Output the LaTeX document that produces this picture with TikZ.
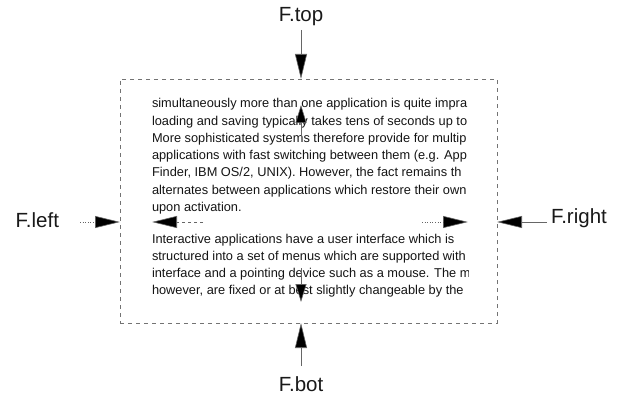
\documentclass[tikz,border=0pt]{standalone}
\usepackage{fontspec}
\setmainfont{Liberation Sans}
\usetikzlibrary{arrows.meta}
\begin{document}
\begin{tikzpicture}[x=1pt,y=-1pt,
  frame/.style={draw=black!55,line width=0.6pt,dash pattern=on 4pt off 4pt,inner sep=0pt,outer sep=0pt},
  lbl/.style={font=\fontsize{20.5}{24}\selectfont,text=black!90,inner sep=3.5pt,outer sep=0pt},
  txt/.style={font=\fontsize{12.8}{15}\selectfont,text=black!92,inner sep=0pt,outer sep=0pt,anchor=base west},
  bigarrow/.style={draw=black!60,line width=0.6pt,-{Triangle[length=25pt,width=12pt,fill=black]}},
  smallarrow/.style={draw=black!60,line width=0.6pt,-{Triangle[length=18pt,width=11pt,fill=black]}}]
\useasboundingbox (0,0) rectangle (617,395);
% frame and text block
\node[frame,minimum width=377pt,minimum height=244pt] (F) at (308.5,201) {};
\node[inner sep=0pt,outer sep=0pt,minimum width=316pt,minimum height=197pt] (T) at (310,203.5) {};
\coordinate (axis) at (301,222);
% text lines (clipped at the block's right edge)
\begin{scope}
\clip ([yshift=15pt]T.north west) rectangle ([yshift=-15pt]T.south east);
\node[txt] (l1) at (152,108) {simultaneously more than one application is quite impra};
\node[txt] (l2) at (152,125.2) {loading and saving typically takes tens of seconds up to};
\node[txt] (l3) at (152,142.4) {More sophisticated systems therefore provide for multip};
\node[txt] (l4) at (152,159.6) {applications with fast switching between them (e.g. App};
\node[txt] (l5) at (152,176.8) {Finder, IBM OS/2, UNIX). However, the fact remains th};
\node[txt] (l6) at (152,194) {alternates between applications which restore their own};
\node[txt] (l7) at (152,211.2) {upon activation.};
\node[txt] (l8) at (152,243) {Interactive applications have a user interface which is};
\node[txt] (l9) at (152,260.2) {structured into a set of menus which are supported with};
\node[txt] (l10) at (152,277.4) {interface and a pointing device such as a mouse. The m};
\node[txt] (l11) at (152,294.6) {however, are fixed or at best slightly changeable by the};
\end{scope}
% labels
\node[lbl,anchor=base] (ftop) at (301,22) {F.top};
\node[lbl,anchor=base,inner ysep=10pt] (fbot) at (301,391) {F.bot};
\node[lbl,anchor=base east,inner xsep=21pt] (fleft) at (80,227) {F.left};
\node[lbl,anchor=base west,inner xsep=4pt] (fright) at (547,223) {F.right};
% outer arrows
\draw[bigarrow] (ftop) -- (ftop |- F.north);
\draw[bigarrow] (fbot) -- (fbot |- F.south);
\draw[bigarrow,dotted] (fleft.east |- axis) -- (axis -| F.west);
\draw[bigarrow] (fright.west |- axis) -- (axis -| F.east);
% inner arrows
\coordinate (iN) at (301,137);
\coordinate (iS) at (301,268);
\coordinate (iW) at (203,222);
\coordinate (iE) at (422,222);
\draw[smallarrow] (iN) -- (iN |- T.north);
\draw[smallarrow] (iS) -- (iS |- T.south);
\draw[bigarrow,dashed] (iW) -- (iW -| T.west);
\draw[bigarrow,dotted] (iE) -- (iE -| T.east);
\end{tikzpicture}
\end{document}
